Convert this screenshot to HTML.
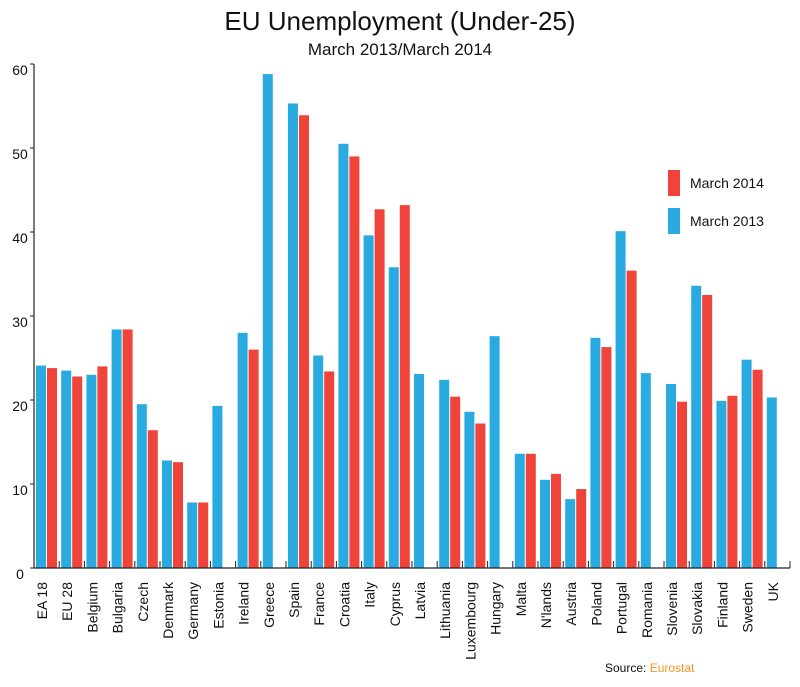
<!DOCTYPE html>
<html><head><meta charset="utf-8"><style>
body{margin:0;background:#fff;}
svg text{font-family:"Liberation Sans",sans-serif;fill:#111;}
</style></head><body>
<svg width="800" height="682" xmlns="http://www.w3.org/2000/svg">
<text x="400" y="30" font-size="26" text-anchor="middle">EU Unemployment (Under-25)</text>
<text x="400" y="55" font-size="17" text-anchor="middle">March 2013/March 2014</text>
<g id="plot"></g>
<rect x="668" y="170" width="12" height="26" fill="#f0443a"/>
<text x="690" y="188" font-size="14">March 2014</text>
<rect x="668" y="208" width="12" height="26" fill="#29abe2"/>
<text x="690" y="226" font-size="14">March 2013</text>
<text x="605" y="672" font-size="12">Source: <tspan fill="#f7931e">Eurostat</tspan></text>
</svg>
<script>
const categories=["EA 18","EU 28","Belgium","Bulgaria","Czech","Denmark","Germany","Estonia","Ireland","Greece","Spain","France","Croatia","Italy","Cyprus","Latvia","Lithuania","Luxembourg","Hungary","Malta","N'lands","Austria","Poland","Portugal","Romania","Slovenia","Slovakia","Finland","Sweden","UK"];
const values2013=[24.1,23.5,23.0,28.4,19.5,12.8,7.8,19.3,28.0,58.8,55.3,25.3,50.5,39.6,35.8,23.1,22.4,18.6,27.6,13.6,10.5,8.2,27.4,40.1,23.2,21.9,33.6,19.9,24.8,20.3];
const values2014=[23.8,22.8,24.0,28.4,16.4,12.6,7.8,null,26.0,null,53.9,23.4,49.0,42.7,43.2,null,20.4,17.2,null,13.6,11.2,9.4,26.3,35.4,null,19.8,32.5,20.5,23.6,null];
const yTicks=[0,10,20,30,40,50,60];
const NS="http://www.w3.org/2000/svg";
const g=document.getElementById('plot');
const x0=34,x1=790,y0=568,yTop=64,step=25.2;
const yScale=v=>y0-(v/60)*(y0-yTop);
const xGroup=i=>x0+i*step;
function mk(tag,attrs){const e=document.createElementNS(NS,tag);for(const k in attrs)e.setAttribute(k,attrs[k]);g.appendChild(e);return e;}
yTicks.forEach(t=>{
  const e=mk('text',{x:20,y:yScale(t)+11,'font-size':14,'text-anchor':'middle'});
  e.textContent=t;
  
  
  const tk=mk('line',{x1:x0-4,x2:x0,y1:yScale(t),y2:yScale(t),stroke:'#222','stroke-width':1});
  
  
});
categories.forEach((c,i)=>{
  const gx=xGroup(i);
  const b=mk('rect',{x:gx+2,y:yScale(values2013[i]),width:10,height:y0-yScale(values2013[i]),fill:'#29abe2'});
  
  
  if(values2014[i]!=null){
    const r=mk('rect',{x:gx+13,y:yScale(values2014[i]),width:10,height:y0-yScale(values2014[i]),fill:'#f0443a'});
    
    
  }
  const tk=mk('line',{x1:gx+step,x2:gx+step,y1:y0-7,y2:y0,stroke:'#222','stroke-width':1});
  
  
  const lx=gx+13;
  const t=mk('text',{x:0,y:0,'font-size':14,'text-anchor':'end',transform:`translate(${lx},582) rotate(-90)`});
  t.textContent=c;
  
  
});
const ax=mk('line',{x1:x0,x2:x0,y1:yTop,y2:y0,stroke:'#222','stroke-width':1.2});


const bx=mk('line',{x1:x0,x2:x1,y1:y0,y2:y0,stroke:'#222','stroke-width':1.2});


</script>
</body></html>
